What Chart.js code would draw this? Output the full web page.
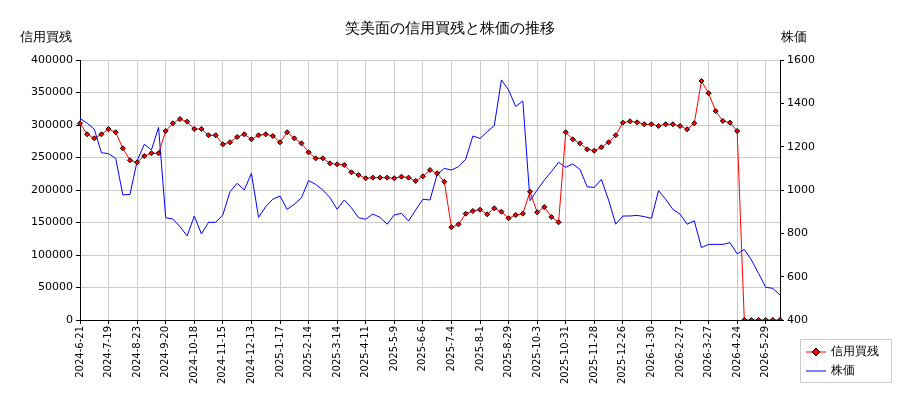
<!DOCTYPE html>
<html><head><meta charset="utf-8">
<script src="https://cdn.jsdelivr.net/npm/chart.js@4"></script>
<style>body{margin:0;background:#fff}#w{width:900px;height:400px}</style>
</head><body><div id="w"><canvas id="c" width="900" height="400"></canvas></div>
<script>
const tickLabels = ["2024-6-21","2024-7-19","2024-8-23","2024-9-20","2024-10-18","2024-11-15","2024-12-13","2025-1-17","2025-2-14","2025-3-14","2025-4-11","2025-5-9","2025-6-6","2025-7-4","2025-8-1","2025-8-29","2025-10-3","2025-10-31","2025-11-28","2025-12-26","2026-1-30","2026-2-27","2026-3-27","2026-4-24","2026-5-29"];
const marginBuy = [302600,285700,279500,285700,293800,288800,264200,245700,242600,252300,256500,256500,290800,302600,309200,305100,293800,293800,284200,284200,270300,273400,281500,285700,278000,284200,285700,283100,273400,288800,279500,271800,258000,
248700,248700,241000,239500,238500,227200,223100,218000,219000,219000,219000,218000,220500,219000,213900,221000,230800,225700,212800,142600,147200,163600,167700,169700,162600,171800,166600,156500,161500,163600,197400,165700,173800,
158500,150300,288800,278000,271800,262600,260500,265700,273400,284200,303600,305700,304100,301100,301100,298500,301100,301100,298500,293400,302600,367700,348800,321500,306200,303600,290800,0,0,0,0,0,0];
const price = [1331,1308,1281,1172,1168,1146,977,980,1134,1211,1185,1289,872,866,831,788,880,797,851,851,885,992,1031,1000,1077,874,923,958,972,911,934,964,1043,1026,
1000,964,911,954,918,872,865,889,874,842,885,892,857,908,957,954,1072,1100,1092,1108,1142,1249,1238,1269,1297,1508,1462,1385,1411,951,1000,1046,
1085,1128,1105,1120,1095,1015,1012,1049,954,842,880,880,883,877,869,997,957,911,889,842,858,734,749,749,749,757,705,726,677,615,551,546,515];
const categories = price.map((_, i) => i % 4 === 0 ? tickLabels[i / 4] : "");
const F = "'DejaVu Sans', sans-serif";

const deco = {
  id: 'deco',
  afterDraw(ch) {
    const c = ch.ctx; c.save();
    c.fillStyle = '#000'; c.textBaseline = 'middle';
    c.font = "15px " + F; c.textAlign = 'center';
    c.fillText('笑美面の信用買残と株価の推移', 450, 29);
    c.font = "13px " + F; c.textAlign = 'left';
    c.fillText('信用買残', 20, 38);
    c.fillText('株価', 781, 38);
    c.strokeStyle = '#ccc'; c.lineWidth = 1;
    c.fillStyle = '#fff';
    c.beginPath(); c.rect(800.5, 339.5, 91, 43); c.fill(); c.stroke();
    c.strokeStyle = 'red'; c.beginPath(); c.moveTo(806, 352); c.lineTo(826, 352); c.stroke();
    c.fillStyle = 'red'; c.strokeStyle = '#000';
    c.beginPath(); c.moveTo(816, 348); c.lineTo(820, 352); c.lineTo(816, 356); c.lineTo(812, 352); c.closePath(); c.fill(); c.stroke();
    c.strokeStyle = 'blue'; c.beginPath(); c.moveTo(806, 371); c.lineTo(826, 371); c.stroke();
    c.fillStyle = '#000'; c.font = "12px " + F;
    c.fillText('信用買残', 831, 352);
    c.fillText('株価', 831, 371);
    c.restore();
  }
};

new Chart(document.getElementById('c'), {
  type: 'line',
  data: {
    labels: categories,
    datasets: [
      { label: '信用買残', data: marginBuy, yAxisID: 'y', borderColor: 'red', borderWidth: 1,
        pointStyle: 'rectRot', pointRadius: 2.5, pointBackgroundColor: 'red', pointBorderColor: '#000', pointBorderWidth: 1, tension: 0, order: 1 },
      { label: '株価', data: price, yAxisID: 'y1', borderColor: 'blue', borderWidth: 1, pointRadius: 0, tension: 0, order: 2 }
    ]
  },
  options: {
    responsive: false, animation: false, events: [],
    layout: { padding: { top: 60, left: 0, right: 0, bottom: 0 } },
    plugins: { legend: { display: false }, tooltip: { enabled: false } },
    scales: {
      x: {
        offset: false,
        afterFit(s) { s.height = 80; },
        grid: { color: c => c.index % 4 === 0 ? '#cccccc' : 'transparent', tickColor: c => c.index % 4 === 0 ? '#000' : 'transparent', tickLength: 4 },
        border: { color: '#000' },
        ticks: { autoSkip: false, maxRotation: 90, minRotation: 90, color: '#000', font: { family: F, size: 10 }, padding: 2 }
      },
      y: {
        position: 'left', min: 0, max: 400000,
        afterFit(s) { s.width = 80; },
        grid: { color: '#cccccc', tickColor: '#000', tickLength: 4 },
        border: { color: '#000' },
        ticks: { stepSize: 50000, color: '#000', font: { family: F, size: 11 }, padding: 3, callback: v => String(v) }
      },
      y1: {
        position: 'right', min: 400, max: 1600,
        afterFit(s) { s.width = 120; },
        grid: { drawOnChartArea: false, tickColor: '#000', tickLength: 4 },
        border: { color: '#000' },
        ticks: { stepSize: 200, color: '#000', font: { family: F, size: 11 }, padding: 3, callback: v => String(v) }
      }
    }
  },
  plugins: [deco]
});
</script></body></html>
